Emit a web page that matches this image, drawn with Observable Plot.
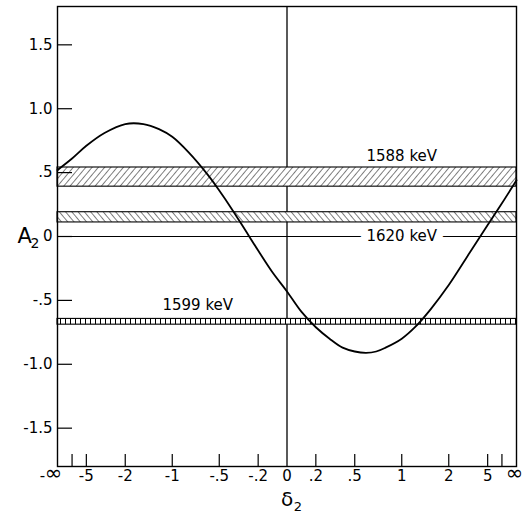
<!DOCTYPE html>
<html>
<head>
<meta charset="utf-8">
<script src="https://cdn.jsdelivr.net/npm/d3@7"></script>
<script src="https://cdn.jsdelivr.net/npm/@observablehq/plot@0.6"></script>
<style>
  html, body { margin: 0; padding: 0; background: white; }
</style>
</head>
<body>
<div id="chart"></div>
<script>
// ---- data ----
const curveDelta = [-Infinity, -10, -5, -3, -2, -1.5, -1.2, -1, -0.8, -0.6, -0.5, -0.4, -0.3, -0.2, -0.1, 0,
                    0.1, 0.2, 0.3, 0.4, 0.5, 0.6, 0.7, 0.8, 1, 1.2, 1.5, 2, 3, 5, 10, Infinity];
const curveA2 = [0.52, 0.61, 0.71, 0.81, 0.88, 0.88, 0.84, 0.78, 0.66, 0.48, 0.36, 0.22, 0.06, -0.11, -0.28, -0.43,
                 -0.59, -0.71, -0.80, -0.87, -0.90, -0.91, -0.90, -0.87, -0.80, -0.71, -0.57, -0.38, -0.13, 0.09, 0.26, 0.44];

const bandNames = ["1588 keV", "1620 keV", "1599 keV"];
const bandLow = [0.39, 0.11, -0.69];
const bandHigh = [0.54, 0.19, -0.645];
const bandPattern = ["hatchFwd", "hatchBack", "ladder"];
const labelDelta = [1, 1, -0.7];
const labelA2 = [0.63, 0, -0.54];

const xTickDelta = [-10, -5, -2, -1, -0.5, -0.2, 0.2, 0.5, 1, 2, 5, 10];
const xLabelDelta = [-5, -2, -1, -0.5, -0.2, 0, 0.2, 0.5, 1, 2, 5];
const xLabelText = ["-5", "-2", "-1", "-.5", "-.2", "0", ".2", ".5", "1", "2", "5"];
const xEndText = ["-", "∞", "∞"];

const yTicks = [1.5, 1, 0.5, 0, -0.5, -1, -1.5];
const yLabelText = ["1.5", "1.0", ".5", "0", "-.5", "-1.0", "-1.5"];

// ---- helpers ----
const deg = d => Math.atan(d) * 180 / Math.PI;   // arctan scale for δ
const curve = curveDelta.map((d, i) => ({x: deg(d), y: curveA2[i]}));
const bands = bandNames.map((n, i) => ({name: n, lo: bandLow[i], hi: bandHigh[i], pat: bandPattern[i]}));
const labels = bandNames.map((n, i) => ({name: n, x: deg(labelDelta[i]), y: labelA2[i]}));

const W = 523, H = 516, mL = 57, mR = 7, mT = 6, mB = 50;
const innerW = W - mL - mR, innerH = H - mT - mB;
const font = "DejaVu Sans, sans-serif";

const plot = Plot.plot({
  width: W, height: H,
  marginLeft: mL, marginRight: mR, marginTop: mT, marginBottom: mB,
  x: {domain: [-90, 90], axis: null},
  y: {domain: [-1.8, 1.8], axis: null},
  style: {fontFamily: font, background: "white", color: "black"},
  marks: [
    // zero line and δ=0 line
    Plot.ruleY([0], {stroke: "black", strokeWidth: 1}),
    Plot.ruleX([0], {x: d => deg(d), stroke: "black", strokeWidth: 1.3}),
    // 1620 label with white halo interrupting the zero line
    Plot.text([labels[1]], {x: "x", y: "y", text: "name", fontSize: 15, fill: "black",
      stroke: "white", strokeWidth: 16, paintOrder: "stroke"}),
    // bands
    Plot.rect(bands, {x1: () => -90, x2: () => 90, y1: "lo", y2: "hi",
      fill: d => `url(#${d.pat})`, stroke: "black", strokeWidth: 1.1}),
    // other labels
    Plot.text([labels[0], labels[2]], {x: "x", y: "y", text: "name", fontSize: 15, fill: "black"}),
    // curve
    Plot.line(curve, {x: "x", y: "y", curve: "catmull-rom", stroke: "black", strokeWidth: 1.8}),
    // inner ticks
    Plot.ruleX(xTickDelta, {x: d => deg(d), insetTop: innerH - 12, stroke: "black", strokeWidth: 1.2}),
    Plot.ruleY(yTicks, {y: d => d, insetRight: innerW - 15, stroke: "black", strokeWidth: 1.2}),
    Plot.frame({stroke: "black", strokeWidth: 1.4}),
    // y tick labels
    Plot.text(yTicks, {frameAnchor: "left", y: d => d, text: (d, i) => yLabelText[i],
      textAnchor: "end", dx: -5, fontSize: 15, fill: "black"}),
    // x tick labels
    Plot.text(xLabelDelta, {x: d => deg(d), frameAnchor: "bottom", text: (d, i) => xLabelText[i],
      lineAnchor: "top", dy: 4, fontSize: 15, fill: "black"}),
    Plot.text([xEndText[0]], {x: () => -90, frameAnchor: "bottom", text: d => d,
      lineAnchor: "top", dy: 4, dx: -15, fontSize: 15, fill: "black"}),
    Plot.text([xEndText[1]], {x: () => -90, frameAnchor: "bottom", text: d => d,
      lineAnchor: "top", dy: -1, dx: -4, fontSize: 21, fill: "black"}),
    Plot.text([xEndText[2]], {x: () => 90, frameAnchor: "bottom", text: d => d,
      lineAnchor: "top", dy: -1, dx: -2, fontSize: 21, fill: "black"}),
    // axis titles
    Plot.text(["δ"], {x: () => 0, frameAnchor: "bottom", text: d => d, lineAnchor: "top",
      dy: 25, fontSize: 20, fill: "black"}),
    Plot.text(["2"], {x: () => 0, frameAnchor: "bottom", text: d => d, lineAnchor: "top",
      dy: 35, dx: 11, fontSize: 13, fill: "black"}),
    Plot.text(["A"], {frameAnchor: "left", y: () => 0, text: d => d, dx: -40,
      fontSize: 21, fill: "black"}),
    Plot.text(["2"], {frameAnchor: "left", y: () => 0, text: d => d, dx: -27, dy: 7,
      fontSize: 14, fill: "black"})
  ]
});

const ns = "http://www.w3.org/2000/svg";
const defs = document.createElementNS(ns, "defs");
defs.innerHTML = `
  <pattern id="hatchFwd" patternUnits="userSpaceOnUse" width="4.8" height="10" patternTransform="rotate(40)">
    <rect width="4.8" height="10" fill="white"/>
    <line x1="0" y1="-1" x2="0" y2="11" stroke="black" stroke-width="1"/>
  </pattern>
  <pattern id="hatchBack" patternUnits="userSpaceOnUse" width="4.8" height="10" patternTransform="rotate(-40)">
    <rect width="4.8" height="10" fill="white"/>
    <line x1="0" y1="-1" x2="0" y2="11" stroke="black" stroke-width="1"/>
  </pattern>
  <pattern id="ladder" patternUnits="userSpaceOnUse" width="5" height="10">
    <rect width="5" height="10" fill="white"/>
    <line x1="0.5" y1="0" x2="0.5" y2="10" stroke="black" stroke-width="1"/>
  </pattern>`;
plot.insertBefore(defs, plot.firstChild);
document.getElementById("chart").appendChild(plot);
</script>
</body>
</html>
